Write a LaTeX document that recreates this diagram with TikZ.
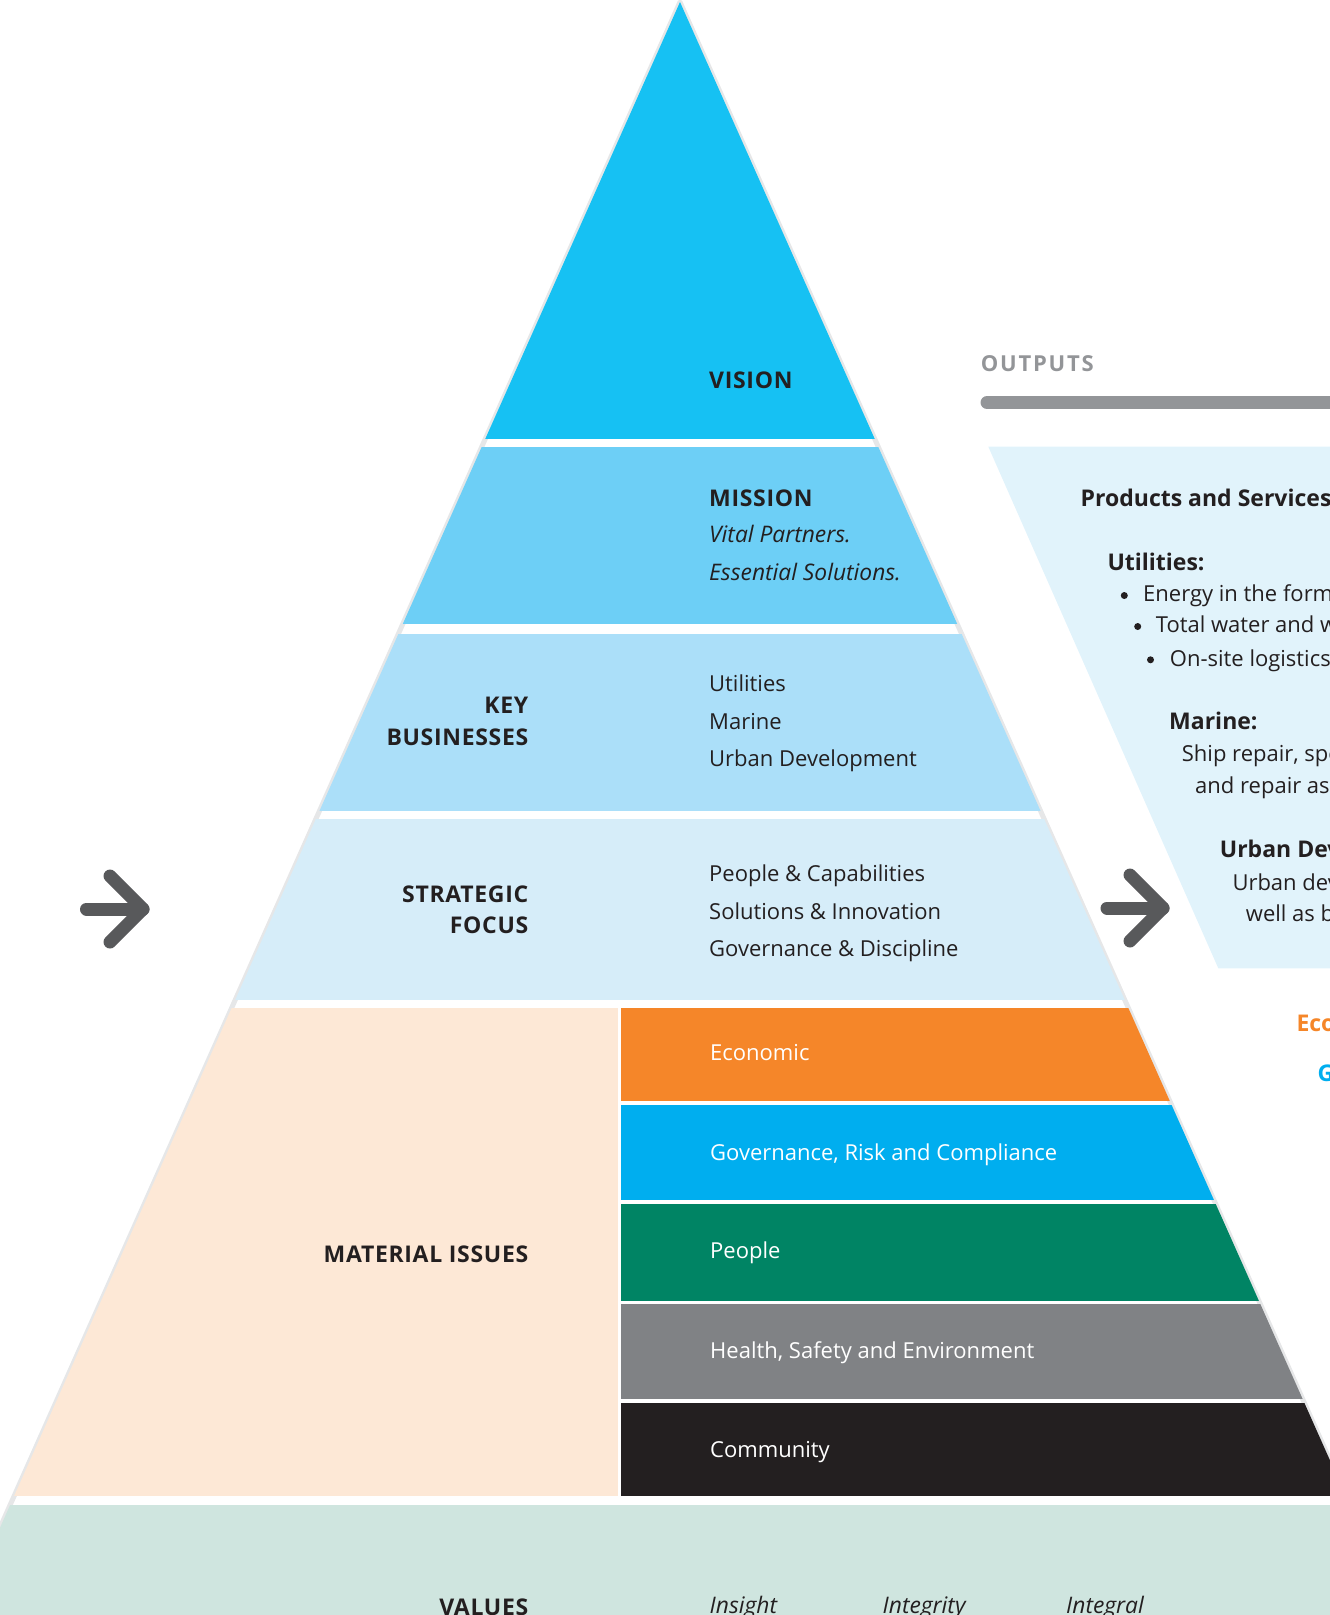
\documentclass[tikz,border=0pt]{standalone}
\usepackage{fontspec}
\setmainfont{Open Sans}
\newfontfamily\spacedfont[LetterSpace=8]{Open Sans}
\newfontfamily\capsfont[LetterSpace=3]{Open Sans}
\definecolor{vision}{HTML}{16C1F3}
\definecolor{mission}{HTML}{6DCFF6}
\definecolor{keyb}{HTML}{ABDFF9}
\definecolor{strat}{HTML}{D6EDF9}
\definecolor{peach}{HTML}{FDE8D6}
\definecolor{econ}{HTML}{F58629}
\definecolor{gov}{HTML}{00AEEF}
\definecolor{people}{HTML}{008464}
\definecolor{hse}{HTML}{808285}
\definecolor{comm}{HTML}{231F20}
\definecolor{values}{HTML}{CFE5DF}
\definecolor{outline}{HTML}{E6E7E8}
\definecolor{panel}{HTML}{E1F3FB}
\definecolor{outgray}{HTML}{939598}
\definecolor{arrowgray}{HTML}{58595B}
\definecolor{ink}{HTML}{231F20}
\begin{document}
\begin{tikzpicture}[x=1pt,y=-1pt,
  txt/.style={inner sep=0pt, anchor=base west, font=\fontsize{22}{26}\selectfont, text=ink},
  hd/.style={txt, font=\fontsize{23}{27}\selectfont\bfseries},
  caps/.style={txt, font=\fontsize{23}{27}\selectfont\capsfont\bfseries},
  capsr/.style={caps, anchor=base east},
  it/.style={txt, font=\fontsize{22.8}{27}\selectfont\itshape},
  wt/.style={txt, text=white},
  arrowline/.style={draw=arrowgray, line width=13pt, line cap=round, line join=round},
  bar/.style={draw=outgray, line width=13pt, line cap=round}
]
\useasboundingbox (0,0) rectangle (1330,1615);
\clip (0,0) rectangle (1330,1615);
% pyramid outline
\draw[outline, line width=5pt, line join=round] (680,2) -- (1436.8,1700) -- (-76.8,1700) -- cycle;
\begin{scope}
\clip (680,2) -- (1436.8,1700) -- (-76.8,1700) -- cycle;
\fill[vision] (0,0) rectangle (1330,438.6);
\fill[mission] (0,447.2) rectangle (1330,624.3);
\fill[keyb] (0,634) rectangle (1330,810.8);
\fill[strat] (0,819) rectangle (1330,1000);
\fill[peach] (0,1007.6) rectangle (618.2,1496.3);
\fill[econ] (621,1007.6) rectangle (1400,1101.3);
\fill[gov] (621,1105.4) rectangle (1400,1200.2);
\fill[people] (621,1204.3) rectangle (1400,1300.5);
\fill[hse] (621,1303.8) rectangle (1400,1399.2);
\fill[comm] (621,1402.8) rectangle (1400,1496.3);
\fill[values] (-100,1505.3) rectangle (1400,1700);
\end{scope}
% pyramid texts
\node[caps] (vision) at (709,388.4) {VISION};
\node[caps] (mission) at (709,506) {MISSION};
\node[it] (vital) at (709,542.7) {Vital Partners.};
\node[it] (essential) at (709,580) {Essential Solutions.};
\node[capsr] (key) at (528.5,713.4) {KEY};
\node[capsr] (businesses) at (528.5,745.4) {BUSINESSES};
\node[txt] (util) at (709,691.3) {Utilities};
\node[txt] (marine) at (709,729.4) {Marine};
\node[txt] (urban) at (709,766.5) {Urban Development};
\node[capsr] (strategic) at (528.5,902) {STRATEGIC};
\node[capsr] (focus) at (528.5,933.9) {FOCUS};
\node[txt] (pc) at (709,881.7) {People \& Capabilities};
\node[txt] (si) at (709,919) {Solutions \& Innovation};
\node[txt] (gd) at (709,956.7) {Governance \& Discipline};
\node[wt] (economic) at (710,1060.1) {Economic};
\node[wt] (grc) at (710,1160) {Governance, Risk and Compliance};
\node[wt] (peoplet) at (710,1258.9) {People};
\node[wt] (hset) at (710,1358.8) {Health, Safety and Environment};
\node[wt] (community) at (710,1457.7) {Community};
\node[capsr] (material) at (528.5,1262.5) {MATERIAL ISSUES};
\node[capsr] (valuest) at (528.5,1615) {VALUES};
\node[it] (insight) at (709.5,1613) {Insight};
\node[it] (integrity) at (882.5,1613) {Integrity};
\node[it] (integral) at (1066,1613) {Integral};
% outputs
\node[txt, text=outgray, font=\fontsize{22}{26}\selectfont\spacedfont\bfseries] (outputs) at (980.7,371.5) {OUTPUTS};
\coordinate (barL) at (987,402.5);
\coordinate (barR) at (1400,402.5);
\draw[bar] (barL) -- (barR);
\fill[panel] (988.3,446.7) -- (1400,446.7) -- (1400,968.3) -- (1218.3,968.3) -- cycle;
\node[hd] (ps) at (1080.5,506) {Products and Services};
\node[hd] (utilh) at (1107.3,570) {Utilities:};
\fill[ink] (1124.3,595.5) circle (3.5);
\node[txt] (b1) at (1143,601.7) {Energy in the form};
\fill[ink] (1137.7,626.5) circle (3.5);
\node[txt] (b2) at (1155.7,632.7) {Total water and w};
\fill[ink] (1150.5,659.8) circle (3.5);
\node[txt] (b3) at (1169.7,666) {On-site logistics};
\node[hd] (marineh) at (1169,729.3) {Marine:};
\node[txt] (m1) at (1181.7,761.7) {Ship repair, spe};
\node[txt] (m2) at (1195,793.3) {and repair as};
\node[hd] (urbanh) at (1219.7,857.3) {Urban Dev};
\node[txt] (u1) at (1232.3,890) {Urban dev};
\node[txt] (u2) at (1245.7,921) {well as b};
\node[hd, text=econ] (eco) at (1296.3,1031.7) {Eco};
\node[hd, text=gov] (g) at (1317.3,1081.7) {G};
% arrows
\coordinate (la0) at (86.5,909);
\coordinate (latip) at (143,909);
\coordinate (laU) at (110,876);
\coordinate (laD) at (110,942);
\draw[arrowline] (la0) -- (latip);
\draw[arrowline] (laU) -- (latip) -- (laD);
\coordinate (ra0) at (1107,908);
\coordinate (ratip) at (1163,908);
\coordinate (raU) at (1130,875);
\coordinate (raD) at (1130,941);
\draw[arrowline] (ra0) -- (ratip);
\draw[arrowline] (raU) -- (ratip) -- (raD);
\end{tikzpicture}
\end{document}
